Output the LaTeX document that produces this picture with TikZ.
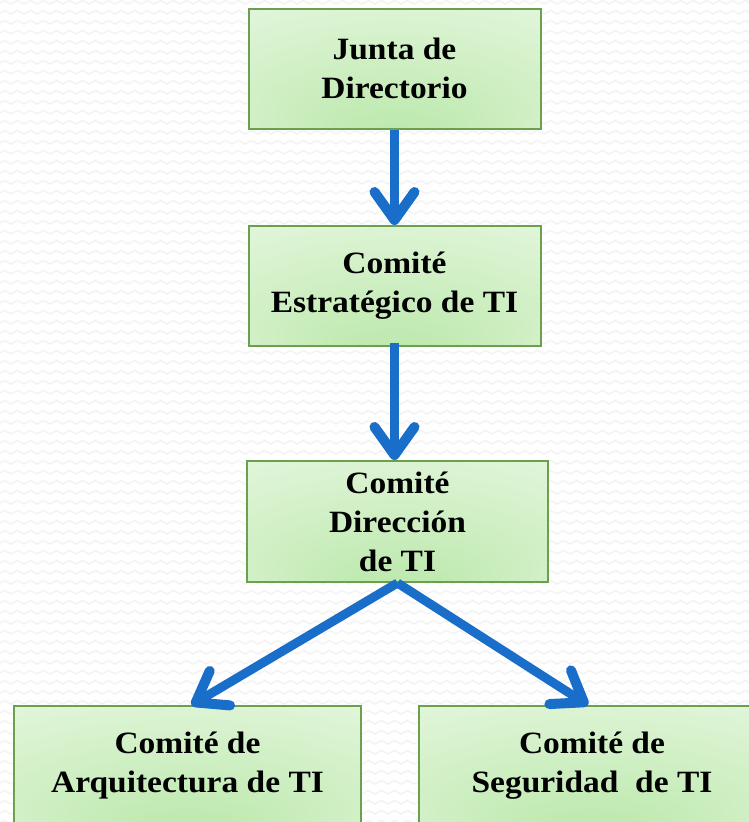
\documentclass[tikz,border=0pt]{standalone}
\usepackage{fontspec}
\setmainfont{Liberation Serif}[FakeStretch=1.08]
\usetikzlibrary{arrows.meta}
\definecolor{boxborder}{RGB}{106,160,78}
\definecolor{glowin}{RGB}{186,232,170}
\definecolor{glowout}{RGB}{242,251,238}
\definecolor{arrowblue}{RGB}{24,110,200}
\definecolor{zigzag}{RGB}{243,243,243}
\pgfdeclareradialshading{boxglow}{\pgfpoint{0bp}{-30bp}}{color(0bp)=(glowin); color(60bp)=(glowout)}
\begin{document}
\begin{tikzpicture}[x=1pt,y=-1pt,
  orgbox/.style={draw=boxborder, line width=2pt, shading=boxglow,
    minimum height=120pt, align=center, inner sep=0pt,
    font=\bfseries\fontsize{31}{39}\selectfont},
  flow/.style={draw=arrowblue, line width=9pt,
    -{Straight Barb[length=28pt,width=40pt,line width=10pt,round]}},
  bgline/.style={draw=zigzag, line width=1.5pt}]
\useasboundingbox (0,0) rectangle (749,822);
\clip (0,0) rectangle (749,822);
\fill[white] (0,0) rectangle (749,822);
\foreach \y in {4,14,...,824}
  \draw[bgline] (-2,\y) \foreach \x in {-2,11,...,750} { -- (\x+6.5,\y-3.5) -- (\x+13,\y) };
\node[orgbox, minimum width=292pt] (b1) at (394.5,68.5) {Junta de\\Directorio};
\node[orgbox, minimum width=292pt] (b2) at (394.5,286) {Comité\\Estratégico de TI};
\node[orgbox, minimum width=301pt, minimum height=121pt] (b3) at (397.5,521.5) {Comité\\Dirección\\de TI};
\node[orgbox, minimum width=347pt] (b4) at (187.5,766) {Comité de\\Arquitectura de TI};
\node[orgbox, minimum width=346pt] (b5) at (592,766) {Comité de\\Seguridad\ \ de TI};
\draw[flow] (b1.south) -- (b2.north);
\draw[flow] ([yshift=4pt]b2.south) -- (b2.south |- b3.north);
\draw[flow] (b3.south) -- ([xshift=4pt]b4.north);
\draw[flow] (b3.south) -- ([xshift=-4pt]b5.north);
\end{tikzpicture}
\end{document}
